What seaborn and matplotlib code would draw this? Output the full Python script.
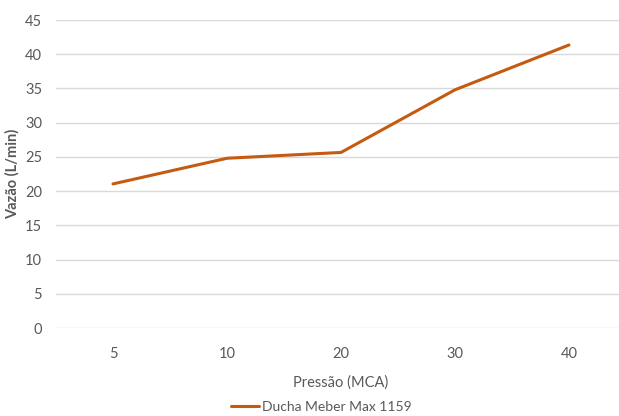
import matplotlib
matplotlib.use("Agg")
import matplotlib.pyplot as plt
import seaborn as sns
import pandas as pd

pressures = ["5", "10", "20", "30", "40"]
flow = [21.05, 24.8, 25.65, 34.8, 41.35]
series_name = "Ducha Meber Max 1159"
yticks = [0, 5, 10, 15, 20, 25, 30, 35, 40, 45]

sns.set_theme(style="white")
plt.rcParams["font.family"] = ["Lato", "DejaVu Sans"]

df = pd.DataFrame({"Pressão (MCA)": pressures, "Vazão (L/min)": flow, "serie": series_name})

fig = plt.figure(figsize=(6.19, 4.16), dpi=100)
ax = fig.add_axes([56/619, 1 - 328/416, (626-56)/619, (328-20)/416])

sns.lineplot(data=df, x="Pressão (MCA)", y="Vazão (L/min)", hue="serie",
             palette=["#C55A11"], linewidth=2.2, ax=ax, sort=False, legend=True)

ax.set_xlim(-0.5, 4.5)
ax.set_ylim(0, 45)
ax.set_yticks(yticks)
ax.set_yticklabels([str(t) for t in yticks])
for s in ax.spines.values():
    s.set_visible(False)
ax.yaxis.grid(True, color="#d9d9d9", linewidth=1)
ax.xaxis.grid(False)
ax.set_axisbelow(True)
ax.tick_params(axis="both", length=0, labelsize=10.5, colors="#595959")
ax.tick_params(axis="x", pad=14)
ax.tick_params(axis="y", pad=10)
ax.set_xlabel("Pressão (MCA)", fontsize=10.5, color="#595959", labelpad=10)
ax.set_ylabel("Vazão (L/min)", fontsize=10.5, color="#595959", fontweight="bold", labelpad=4)

handles, labels = ax.get_legend_handles_labels()
ax.get_legend().remove()
fig.legend(handles, labels, loc="lower center", bbox_to_anchor=(0.519, -0.022), frameon=False,
           fontsize=10, labelcolor="#595959", handlelength=2.0, handletextpad=0.2)

fig.savefig("out.png", dpi=100)
